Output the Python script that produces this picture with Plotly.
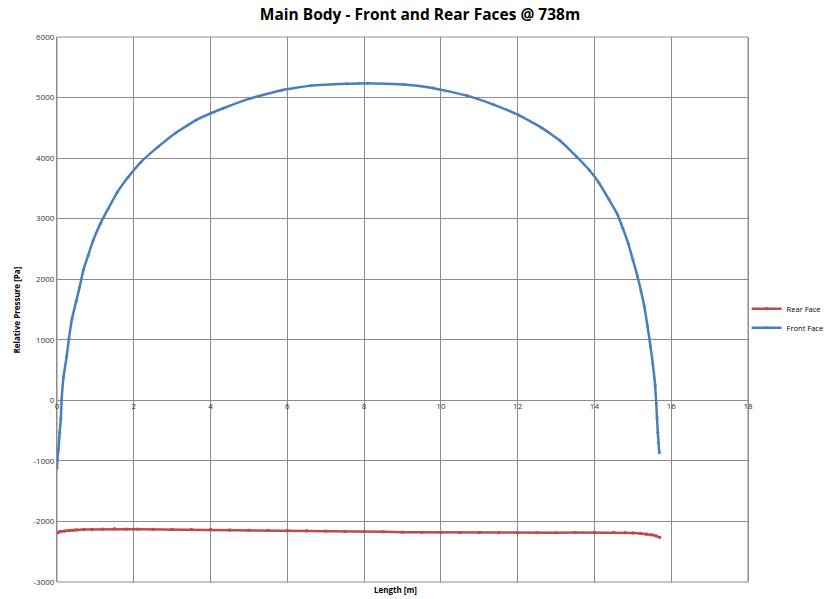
import plotly.graph_objects as go

# ---- data ----
front_x = [0.0, 0.01, 0.04, 0.07, 0.10, 0.12, 0.17, 0.25, 0.31, 0.39, 0.50, 0.59, 0.69, 0.81,
           0.94, 1.13, 1.33, 1.57, 1.85, 2.18, 2.63, 3.09, 3.63, 4.33, 5.02, 5.85, 6.60,
           7.55, 7.85, 8.09, 9.05, 9.79, 10.68, 11.37, 12.03, 12.63, 13.09, 13.54, 13.87,
           14.12, 14.38, 14.59, 14.74, 14.88, 15.00, 15.12, 15.21, 15.30, 15.38, 15.46,
           15.52, 15.58, 15.61, 15.63, 15.65, 15.67, 15.69]
front_y = [-1116, -980, -797, -528, -302, 0, 386, 717, 1013, 1344, 1635, 1873, 2158, 2390,
           2637, 2918, 3161, 3435, 3683, 3931, 4185, 4416, 4631, 4823, 4983, 5120, 5197,
           5228, 5232, 5236, 5214, 5159, 5032, 4884, 4710, 4499, 4294, 4020, 3799,
           3590, 3315, 3083, 2840, 2590, 2324, 2048, 1812, 1553, 1234, 892,
           606, 259, -55, -291, -528, -704, -864]

rear_x = [0.0, 0.05, 0.1, 0.2, 0.3, 0.4, 0.5, 0.7, 0.9, 1.2, 1.5, 1.8, 2.1, 2.5, 3.0, 3.5,
          4.0, 4.5, 5.0, 5.5, 6.0, 6.5, 7.0, 7.5, 8.0, 8.5, 9.0, 9.5, 10.0, 10.5, 11.0,
          11.5, 12.0, 12.5, 13.0, 13.5, 14.0, 14.5, 14.8, 15.0, 15.2, 15.35, 15.5, 15.6, 15.7]
rear_y = [-2185, -2175, -2165, -2158, -2150, -2145, -2140, -2135, -2132, -2128, -2122, -2127,
          -2128, -2130, -2133, -2136, -2138, -2140, -2145, -2148, -2152, -2155, -2160, -2165,
          -2168, -2172, -2178, -2180, -2183, -2183, -2185, -2186, -2187, -2186, -2185, -2183,
          -2182, -2182, -2185, -2190, -2198, -2208, -2222, -2238, -2262]

x_ticks = [0, 2, 4, 6, 8, 10, 12, 14, 16, 18]
x_tick_labels = ["0", "2", "4", "6", "8", "10", "12", "14", "16", "18"]
y_ticks = [6000, 5000, 4000, 3000, 2000, 1000, 0, -1000, -2000, -3000]
y_tick_labels = ["6000", "5000", "4000", "3000", "2000", "1000", "0", "-1000", "-2000", "-3000"]

title_text = "Main Body - Front and Rear Faces @ 738m"

FONT = "Open Sans, Liberation Sans, sans-serif"
GRID = "#8c8c8c"

fig = go.Figure()
fig.add_trace(go.Scatter(
    x=rear_x, y=rear_y, name="Rear Face", mode="lines+markers",
    line=dict(color="#BE4B48", width=2.5),
    marker=dict(color="#BE4B48", size=3, symbol="square"),
))
fig.add_trace(go.Scatter(
    x=front_x, y=front_y, name="Front Face", mode="lines+markers",
    line=dict(color="#4A7EBB", width=2.5, shape="spline", smoothing=0.3),
    marker=dict(color="#4A7EBB", size=3),
))

y_min, y_max = -3000, 6000
zero_pos = (0 - y_min) / (y_max - y_min)

fig.update_layout(
    width=830, height=599,
    margin=dict(l=57, r=82, t=37, b=17, autoexpand=False),
    paper_bgcolor="white", plot_bgcolor="white",
    title=dict(text="<b>" + title_text + "</b>", x=0.506, xanchor="center",
               y=0.975, yanchor="middle",
               font=dict(family=FONT, size=15.5, color="#000000")),
    font=dict(family=FONT, size=8, color="#333333"),
    showlegend=True,
    legend=dict(x=0.998, y=0.484, xanchor="left", yanchor="middle",
                font=dict(family=FONT, size=7.5, color="#000000"),
                bgcolor="rgba(0,0,0,0)", itemwidth=30, tracegroupgap=0),
    xaxis=dict(range=[0, 18], tickvals=x_ticks, ticktext=x_tick_labels,
               showgrid=True, gridcolor=GRID, gridwidth=1,
               zeroline=False, showline=False,
               anchor="free", position=zero_pos, side="bottom",
               ticks="", ticklen=0, tickfont=dict(size=8, color="#333333")),
    yaxis=dict(range=[y_min, y_max], tickvals=y_ticks, ticktext=y_tick_labels,
               showgrid=True, gridcolor=GRID, gridwidth=1,
               zeroline=False, showline=True, linecolor=GRID, mirror=True,
               ticks="", tickfont=dict(size=8, color="#333333")),
    shapes=[dict(type="rect", xref="paper", yref="paper", x0=0, x1=1, y0=0, y1=1,
                 line=dict(color=GRID, width=1), layer="below")],
    annotations=[
        dict(text="<b>Length [m]</b>", xref="paper", yref="paper", x=0.49, y=-0.0145,
             xanchor="center", yanchor="middle", showarrow=False,
             font=dict(family=FONT, size=8, color="#000000")),
        dict(text="<b>Relative Pressure [Pa]</b>", xref="paper", yref="paper",
             x=-0.058, y=0.5, xanchor="center", yanchor="middle", textangle=-90,
             showarrow=False, font=dict(family=FONT, size=8, color="#000000")),
    ],
)

fig.write_html("out.html")
